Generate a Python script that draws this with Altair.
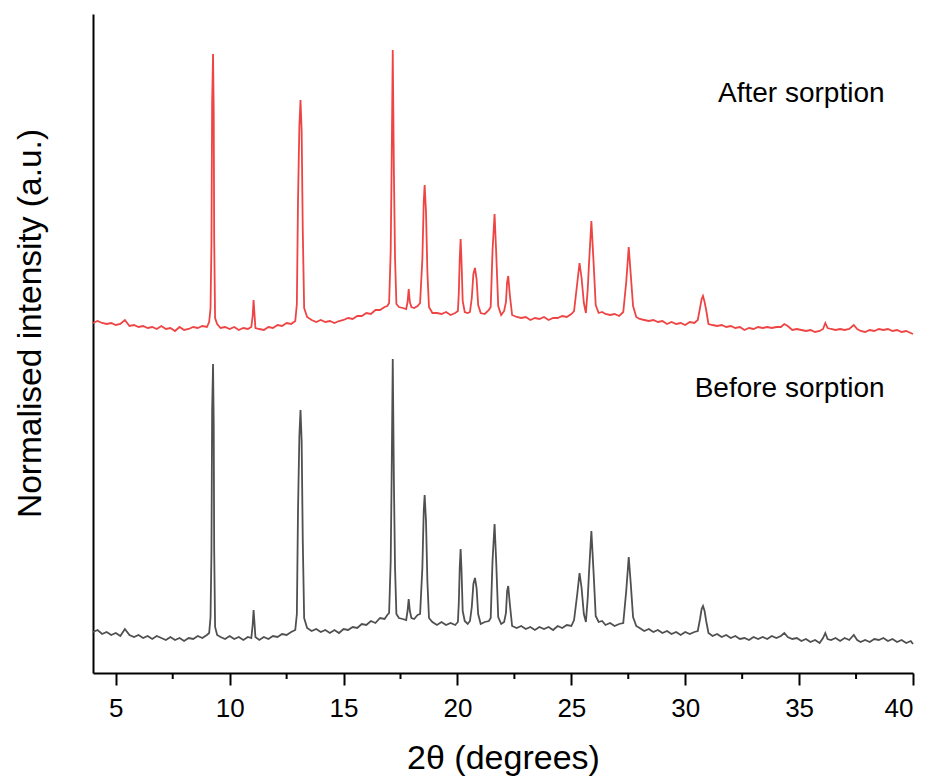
import altair as alt
import pandas as pd

# ---- data (2theta in degrees, intensity in a.u.) ----
BEFORE = [
    (4.0, 41), (4.2, 43), (4.4, 39), (4.6, 41), (4.8, 38), (5.0, 40), (5.2, 37), (5.4, 44),
    (5.6, 38), (5.8, 36), (6.0, 38), (6.2, 35), (6.4, 37), (6.6, 34), (6.8, 37), (7.0, 35),
    (7.2, 33), (7.4, 36), (7.6, 33), (7.8, 35), (8.0, 32), (8.2, 35), (8.4, 34), (8.6, 37),
    (8.8, 35), (9.0, 38),
    (9.10, 40), (9.16, 56), (9.20, 120), (9.23, 262), (9.27, 309), (9.30, 250), (9.32, 124),
    (9.36, 46), (9.45, 38),
    (9.6, 36), (9.8, 34), (10.0, 37), (10.2, 34), (10.4, 36), (10.6, 33), (10.8, 36), (10.95, 35),
    (11.01, 48), (11.05, 63), (11.09, 50), (11.13, 36),
    (11.3, 33), (11.5, 36), (11.7, 34), (11.9, 37), (12.1, 36), (12.3, 39), (12.5, 38), (12.7, 41),
    (12.88, 43),
    (12.95, 59), (13.0, 162), (13.06, 237), (13.11, 263), (13.16, 232), (13.21, 132), (13.27, 55),
    (13.4, 45),
    (13.6, 42), (13.8, 44), (14.0, 41), (14.2, 43), (14.4, 40), (14.6, 43), (14.8, 40), (15.0, 44),
    (15.2, 43), (15.4, 46), (15.6, 45), (15.8, 49), (16.0, 48), (16.2, 52), (16.4, 50), (16.6, 55),
    (16.8, 54), (16.92, 58),
    (17.0, 60), (17.07, 112), (17.11, 194), (17.16, 314), (17.21, 192), (17.26, 105), (17.32, 59),
    (17.43, 55), (17.6, 54), (17.75, 53),
    (17.81, 62), (17.86, 74), (17.91, 62), (17.98, 55),
    (18.1, 54), (18.25, 58), (18.36, 59),
    (18.46, 105), (18.52, 162), (18.56, 178), (18.62, 152), (18.68, 92), (18.75, 55), (18.9, 51),
    (19.1, 48), (19.3, 51), (19.5, 48), (19.7, 50), (19.9, 48), (20.02, 51),
    (20.06, 70), (20.10, 105), (20.14, 124), (20.18, 102), (20.23, 62), (20.32, 52), (20.45, 49),
    (20.55, 52),
    (20.63, 66), (20.70, 89), (20.77, 95), (20.84, 85), (20.91, 59), (21.02, 49), (21.2, 51),
    (21.38, 52),
    (21.46, 55), (21.54, 112), (21.63, 149), (21.70, 112), (21.79, 56), (21.92, 49), (22.05, 51),
    (22.13, 60), (22.18, 82), (22.23, 87), (22.30, 69), (22.40, 47),
    (22.6, 45), (22.8, 47), (23.0, 44), (23.2, 46), (23.4, 43), (23.6, 46), (23.8, 44), (24.0, 46),
    (24.2, 43), (24.4, 47), (24.6, 45), (24.8, 48), (25.0, 47), (25.12, 53),
    (25.26, 79), (25.36, 100), (25.45, 85), (25.55, 59), (25.64, 51),
    (25.72, 75), (25.78, 102), (25.88, 142), (25.98, 99), (26.07, 57), (26.2, 51), (26.35, 52),
    (26.5, 48), (26.7, 50), (26.9, 47), (27.1, 49), (27.28, 50),
    (27.41, 82), (27.52, 116), (27.61, 89), (27.71, 56), (27.85, 47),
    (28.0, 45), (28.2, 42), (28.4, 44), (28.6, 41), (28.8, 43), (29.0, 40), (29.2, 42), (29.4, 39),
    (29.6, 41), (29.8, 38), (30.0, 41), (30.2, 39), (30.4, 41), (30.55, 42),
    (30.65, 54), (30.72, 64), (30.78, 67), (30.85, 62), (30.92, 52), (31.02, 40),
    (31.2, 37), (31.4, 39), (31.6, 36), (31.8, 38), (32.0, 35), (32.2, 37), (32.4, 34), (32.6, 35),
    (32.8, 33), (33.0, 36), (33.2, 34), (33.4, 36), (33.6, 34), (33.8, 37), (34.0, 35), (34.2, 37),
    (34.35, 40), (34.5, 36), (34.7, 34), (34.9, 35), (35.1, 32), (35.3, 34), (35.5, 31), (35.7, 33),
    (35.9, 30), (36.05, 35), (36.15, 40), (36.25, 34), (36.4, 33), (36.6, 35), (36.8, 32), (37.0, 35),
    (37.2, 33), (37.4, 38), (37.55, 33), (37.7, 31), (37.9, 33), (38.1, 31), (38.3, 34), (38.5, 33),
    (38.7, 35), (38.9, 32), (39.1, 34), (39.3, 31), (39.5, 33), (39.7, 30), (39.9, 32), (40.0, 29),
]

AFTER = [
    (4.0, 40), (4.2, 42), (4.4, 40), (4.6, 39), (4.8, 40), (5.0, 38), (5.2, 39), (5.4, 43),
    (5.6, 37), (5.8, 38), (6.0, 36), (6.2, 37), (6.4, 35), (6.6, 36), (6.8, 34), (7.0, 37),
    (7.2, 34), (7.4, 35), (7.6, 32), (7.8, 36), (8.0, 33), (8.2, 34), (8.4, 36), (8.6, 35),
    (8.8, 37), (9.0, 36),
    (9.10, 41), (9.16, 55), (9.20, 119), (9.23, 259), (9.27, 309), (9.30, 252), (9.32, 125),
    (9.36, 45), (9.45, 39),
    (9.6, 35), (9.8, 36), (10.0, 34), (10.2, 36), (10.4, 33), (10.6, 35), (10.8, 34), (10.95, 36),
    (11.01, 47), (11.05, 63), (11.09, 49), (11.13, 35),
    (11.3, 34), (11.5, 33), (11.7, 36), (11.9, 35), (12.1, 38), (12.3, 37), (12.5, 40), (12.7, 39),
    (12.88, 42),
    (12.95, 59), (13.0, 162), (13.06, 237), (13.11, 263), (13.16, 232), (13.21, 132), (13.27, 55),
    (13.4, 46),
    (13.6, 43), (13.8, 41), (14.0, 43), (14.2, 41), (14.4, 42), (14.6, 40), (14.8, 42), (15.0, 43),
    (15.2, 45), (15.4, 44), (15.6, 47), (15.8, 47), (16.0, 50), (16.2, 49), (16.4, 53), (16.6, 53),
    (16.8, 56), (16.92, 57),
    (17.0, 60), (17.07, 112), (17.11, 195), (17.16, 313), (17.21, 191), (17.26, 105), (17.32, 59),
    (17.43, 56), (17.6, 55), (17.75, 54),
    (17.81, 61), (17.86, 74), (17.91, 61), (17.98, 56),
    (18.1, 55), (18.25, 57), (18.36, 60),
    (18.46, 104), (18.52, 161), (18.56, 178), (18.62, 151), (18.68, 91), (18.75, 56), (18.9, 50),
    (19.1, 50), (19.3, 49), (19.5, 51), (19.7, 48), (19.9, 50), (20.02, 52),
    (20.06, 70), (20.10, 104), (20.14, 124), (20.18, 101), (20.23, 62), (20.32, 51), (20.45, 50),
    (20.55, 51),
    (20.63, 65), (20.70, 89), (20.77, 95), (20.84, 84), (20.91, 58), (21.02, 50), (21.2, 49),
    (21.38, 53),
    (21.46, 56), (21.54, 112), (21.63, 149), (21.70, 111), (21.79, 57), (21.92, 48), (22.05, 52),
    (22.13, 61), (22.18, 81), (22.23, 87), (22.30, 68), (22.40, 48),
    (22.6, 46), (22.8, 45), (23.0, 46), (23.2, 43), (23.4, 45), (23.6, 44), (23.8, 46), (24.0, 43),
    (24.2, 45), (24.4, 45), (24.6, 47), (24.8, 46), (25.0, 49), (25.12, 52),
    (25.26, 80), (25.36, 100), (25.45, 85), (25.55, 60), (25.64, 50),
    (25.72, 74), (25.78, 101), (25.88, 142), (25.98, 99), (26.07, 58), (26.2, 50), (26.35, 51),
    (26.5, 49), (26.7, 48), (26.9, 49), (27.1, 47), (27.28, 51),
    (27.41, 81), (27.52, 116), (27.61, 88), (27.71, 57), (27.85, 46),
    (28.0, 44), (28.2, 43), (28.4, 42), (28.6, 43), (28.8, 41), (29.0, 42), (29.2, 39), (29.4, 41),
    (29.6, 39), (29.8, 40), (30.0, 38), (30.2, 41), (30.4, 40), (30.55, 43),
    (30.65, 55), (30.72, 64), (30.78, 67), (30.85, 61), (30.92, 53), (31.02, 39),
    (31.2, 38), (31.4, 37), (31.6, 38), (31.8, 36), (32.0, 37), (32.2, 35), (32.4, 36), (32.6, 33),
    (32.8, 35), (33.0, 34), (33.2, 36), (33.4, 35), (33.6, 36), (33.8, 35), (34.0, 36), (34.2, 36),
    (34.35, 39), (34.5, 37), (34.7, 33), (34.9, 34), (35.1, 33), (35.3, 32), (35.5, 33), (35.7, 31),
    (35.9, 32), (36.05, 34), (36.15, 40), (36.25, 35), (36.4, 34), (36.6, 33), (36.8, 34), (37.0, 33),
    (37.2, 34), (37.4, 38), (37.55, 34), (37.7, 32), (37.9, 31), (38.1, 33), (38.3, 32), (38.5, 34),
    (38.7, 33), (38.9, 34), (39.1, 32), (39.3, 33), (39.5, 31), (39.7, 32), (39.9, 30), (40.0, 29),
]

SERIES = ["Before sorption", "After sorption"]
SERIES_OFFSET = [0, 310]          # vertical stacking of the patterns
SERIES_COLORS = ["#505050", "#ef4444"]

LABEL_TEXT = ["After sorption", "Before sorption"]
LABEL_X = [38.75, 38.75]
LABEL_Y = [571, 276]

MAJOR_TICKS = [5, 10, 15, 20, 25, 30, 35, 40]
MINOR_TICKS = [7.5, 12.5, 17.5, 22.5, 27.5, 32.5, 37.5]

FONT = "Liberation Sans"

# ---- build tables ----
rows = []
for name, pts, off in zip(SERIES, [BEFORE, AFTER], SERIES_OFFSET):
    for x, y in pts:
        rows.append({"two_theta": x, "intensity": y, "sample": name, "shift": off})
df = pd.DataFrame(rows)
labels_df = pd.DataFrame({"two_theta": LABEL_X, "plotted": LABEL_Y, "text": LABEL_TEXT})
minor_df = pd.DataFrame({"two_theta": MINOR_TICKS})

x_enc = alt.X(
    "two_theta:Q",
    scale=alt.Scale(domain=[4, 40], nice=False, zero=False),
    axis=alt.Axis(
        values=MAJOR_TICKS, format="d", title="2θ (degrees)", grid=False,
        labelFont=FONT, labelFontSize=26, labelColor="black",
        labelBaseline="alphabetic", labelPadding=31,
        tickSize=12, tickWidth=2, tickColor="black",
        domainWidth=2, domainColor="black",
        titleFont=FONT, titleFontSize=34, titleFontWeight="normal", titleColor="black",
        titleBaseline="alphabetic", titleY=95,
    ),
)

y_scale = alt.Scale(domain=[0, 659], nice=False, zero=False)

lines = alt.Chart(df).transform_calculate(
    plotted="datum.intensity + datum.shift"
).mark_line(strokeWidth=1.8, strokeJoin="miter").encode(
    x=x_enc,
    y=alt.Y(
        "plotted:Q", scale=y_scale,
        axis=alt.Axis(
            title="Normalised intensity (a.u.)", ticks=False, labels=False, grid=False,
            domainWidth=2, domainColor="black",
            titleFont=FONT, titleFontSize=33.5, titleFontWeight="normal", titleColor="black",
            titleBaseline="alphabetic", titleX=-53, titleY=309, titleAngle=270,
        ),
    ),
    color=alt.Color("sample:N", scale=alt.Scale(domain=SERIES, range=SERIES_COLORS), legend=None),
    detail="sample:N",
)

texts = alt.Chart(labels_df).mark_text(
    align="right", baseline="alphabetic", font=FONT, fontSize=28, color="black"
).encode(
    x=alt.X("two_theta:Q"),
    y=alt.Y("plotted:Q"),
    text="text:N",
)

minor = alt.Chart(minor_df).mark_rule(color="black", strokeWidth=2).encode(
    x=alt.X("two_theta:Q"),
    y=alt.value(659),
    y2=alt.value(665),
)

chart = alt.layer(lines, texts, minor).properties(
    width=820,
    height=659,
    autosize=alt.AutoSizeParams(type="none"),
    padding={"left": 93, "top": 14, "right": 18, "bottom": 107},
    background="white",
).configure_view(stroke=None)

chart.save("out.html", embed_options={"renderer": "svg", "actions": False})
